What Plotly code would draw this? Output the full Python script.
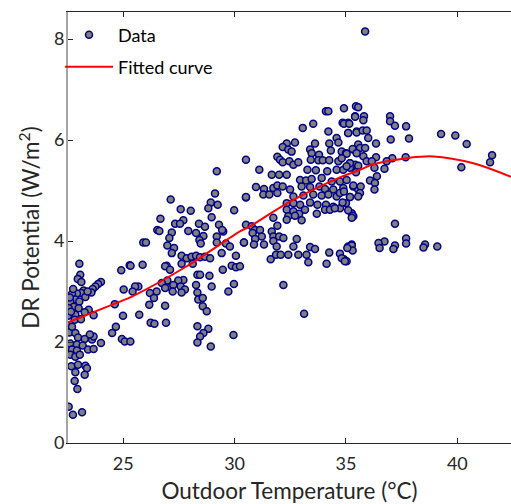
import plotly.graph_objects as go

# Outdoor temperature (°C) of each observation
temp_c = [
    23.03, 23.07, 22.96, 23.12, 24.00, 23.87, 23.75, 23.63, 23.57, 23.22,
    23.12, 22.92, 22.70, 23.30, 22.85, 22.62, 23.03, 22.78, 22.55, 23.00,
    23.45, 23.67, 23.27, 22.85, 22.52, 22.82, 22.52, 22.58, 22.85, 22.97,
    23.27, 23.60, 23.67, 24.00, 22.62, 22.92, 23.18, 23.42, 23.67, 22.70,
    22.92, 22.62, 22.85, 22.67, 22.97, 23.30, 23.37, 22.85, 23.27, 22.82,
    22.94, 22.55, 22.74, 23.15, 24.91, 25.29, 25.02, 24.62, 24.99, 24.67,
    24.50, 24.94, 25.07, 25.32, 22.60, 22.75, 23.40, 22.65, 23.10, 22.70,
    23.50, 23.05,
    29.20, 29.12, 28.93, 28.82, 30.51, 27.13, 27.58, 28.03, 29.98, 28.97,
    26.67, 27.70, 27.33, 27.55, 28.40, 28.67, 29.30, 29.49, 26.53, 26.62,
    27.18, 27.92, 28.27, 28.60, 29.20, 27.07, 28.42, 28.48, 29.20, 29.61,
    29.79, 30.42, 25.90, 26.02, 26.98, 27.28, 27.18, 27.62, 27.85, 28.07,
    28.27, 28.45, 28.67, 28.90, 29.42, 30.06, 26.95, 26.88, 27.10, 25.87,
    25.33, 27.62, 28.12, 28.33, 28.45, 28.87, 29.47, 29.87, 30.06, 27.70,
    27.47, 26.98, 26.73, 27.13, 27.25, 27.58, 27.77, 27.62, 27.22, 26.88,
    26.50, 26.20, 26.38, 25.68, 25.53, 25.42, 28.27, 28.33, 28.37, 28.57,
    28.97, 29.72, 29.97, 26.17, 26.88, 25.72, 28.57, 28.75, 26.23, 26.40,
    26.92, 28.33, 28.82, 28.60, 28.45, 28.33, 29.95, 28.93, 29.24, 29.44,
    34.10, 34.21, 34.91, 35.45, 33.53, 33.06, 34.85, 35.10, 35.41, 34.21,
    35.10, 35.48, 34.58, 34.66, 34.25, 32.71, 32.34, 32.16, 32.41, 32.56,
    33.39, 33.61, 33.46, 33.79, 34.32, 34.81, 35.00, 35.33, 35.55, 31.92,
    32.04, 32.16, 32.46, 32.64, 32.86, 33.42, 33.76, 33.96, 34.25, 34.66,
    35.18, 35.41, 31.11, 30.51, 31.67, 32.00, 32.34, 33.27, 33.65, 34.16,
    34.58, 34.88, 35.18, 32.94, 33.21, 33.46, 33.91, 34.36, 34.73, 35.03,
    35.33, 35.55, 30.96, 31.32, 31.74, 31.92, 32.16, 32.49, 33.01, 33.39,
    33.81, 34.06, 34.43, 34.88, 31.29, 31.56, 31.92, 32.64, 33.09, 33.53,
    33.91, 34.21, 34.58, 34.73, 35.18, 30.51, 32.34, 32.64, 32.94, 33.39,
    33.72, 34.10, 34.43, 34.73, 35.00, 35.26, 35.33, 32.34, 32.64, 32.90,
    33.16, 33.69, 34.06, 34.28, 34.50, 32.41, 32.71, 33.01, 32.34, 31.74,
    30.51, 30.77, 30.92, 31.14, 30.81, 31.22, 30.92, 30.42, 30.87, 31.32,
    31.67, 31.74, 31.92, 32.00, 31.74, 32.19, 31.89, 32.79, 32.64, 33.39,
    33.61, 34.25, 34.73, 34.91, 35.03, 35.10, 35.26, 31.62, 31.86, 32.07,
    32.41, 32.86, 33.23, 33.31, 34.13, 32.19, 33.12, 30.24,
    35.86, 35.55, 35.41, 35.81, 35.78, 34.91, 35.15, 36.98, 36.98, 37.20,
    37.70, 35.10, 35.48, 35.75, 35.93, 36.00, 37.01, 37.83, 39.27, 39.91,
    40.42, 41.56, 41.47, 40.18, 37.68, 37.08, 36.35, 35.55, 35.30, 35.63,
    35.86, 35.48, 35.78, 35.03, 34.81, 35.18, 35.93, 36.35, 36.16, 36.83,
    35.55, 35.03, 36.28, 36.73, 35.45, 36.39, 36.08, 36.30, 35.33, 35.66,
    36.28, 34.91, 35.63, 35.18, 35.55, 34.85, 35.10, 35.30, 35.26, 37.20,
    37.70, 37.70, 36.73, 36.46, 36.51, 37.20, 37.13, 38.55, 38.48, 39.10,
    35.26, 35.30, 35.06, 34.81, 34.95,
]

# Demand-response potential (W/m²) of each observation
dr_potential = [
    3.55, 3.33, 3.25, 3.19, 3.19, 3.15, 3.10, 3.05, 2.98, 3.02,
    2.97, 2.96, 2.95, 2.89, 2.84, 2.80, 2.80, 2.70, 2.67, 2.67,
    2.64, 2.53, 2.59, 2.54, 2.52, 2.44, 2.32, 2.19, 2.18, 2.09,
    2.06, 2.05, 2.11, 1.98, 1.97, 1.95, 1.93, 1.85, 1.86, 1.85,
    1.83, 1.75, 1.71, 1.52, 1.55, 1.53, 1.48, 1.40, 1.35, 1.23,
    1.07, 0.72, 0.56, 0.61, 3.42, 3.52, 3.04, 2.75, 2.52, 2.30,
    2.18, 2.06, 2.01, 2.01, 2.88, 3.05, 3.00, 2.60, 2.45, 2.30,
    2.15, 1.75,
    5.38, 4.94, 4.76, 4.65, 4.86, 4.82, 4.63, 4.60, 4.61, 4.47,
    4.44, 4.41, 4.34, 4.34, 4.34, 4.28, 4.32, 4.19, 4.22, 4.20,
    4.17, 4.20, 4.16, 4.10, 4.09, 4.06, 4.02, 3.95, 3.97, 3.95,
    3.89, 3.97, 3.97, 3.97, 3.91, 3.86, 3.76, 3.71, 3.66, 3.69,
    3.71, 3.68, 3.69, 3.66, 3.76, 3.71, 3.51, 3.50, 3.43, 3.53,
    3.51, 3.55, 3.55, 3.33, 3.33, 3.31, 3.43, 3.51, 3.48, 3.23,
    3.22, 3.22, 3.17, 3.09, 3.13, 3.10, 3.04, 2.98, 3.00, 3.07,
    3.00, 2.97, 2.87, 3.10, 3.10, 3.00, 3.13, 2.98, 2.84, 2.87,
    3.10, 3.00, 3.15, 2.74, 2.72, 2.54, 2.71, 2.61, 2.38, 2.36,
    2.38, 2.31, 2.26, 2.18, 2.11, 1.99, 2.14, 1.91, 4.72, 4.22,
    6.57, 6.57, 6.63, 6.67, 6.32, 6.24, 6.34, 6.34, 6.47, 6.17,
    6.14, 6.17, 6.04, 5.95, 5.93, 5.95, 5.93, 5.86, 5.81, 5.77,
    5.81, 5.93, 5.74, 5.71, 5.79, 5.77, 5.74, 5.81, 5.87, 5.67,
    5.61, 5.56, 5.58, 5.51, 5.56, 5.61, 5.60, 5.60, 5.60, 5.58,
    5.54, 5.51, 5.41, 5.61, 5.31, 5.31, 5.31, 5.41, 5.40, 5.38,
    5.41, 5.41, 5.45, 5.21, 5.20, 5.23, 5.25, 5.18, 5.18, 5.21,
    5.08, 5.02, 5.07, 5.03, 5.05, 5.10, 5.08, 5.02, 5.08, 5.07,
    5.08, 5.03, 5.02, 5.05, 4.92, 4.92, 4.95, 4.88, 4.90, 4.92,
    4.90, 4.92, 4.88, 4.95, 4.87, 4.87, 4.75, 4.75, 4.72, 4.76,
    4.72, 4.72, 4.68, 4.65, 4.75, 4.55, 4.49, 4.62, 4.59, 4.54,
    4.62, 4.54, 4.62, 4.62, 4.65, 4.49, 4.50, 4.41, 4.42, 4.46,
    4.32, 4.29, 4.22, 4.22, 4.16, 4.09, 4.04, 3.97, 3.93, 3.93,
    4.19, 4.09, 4.30, 4.09, 4.00, 4.06, 3.89, 4.04, 3.89, 3.88,
    3.84, 3.77, 3.75, 3.64, 3.60, 3.89, 3.93, 3.64, 3.73, 3.73,
    3.73, 3.73, 3.73, 3.58, 3.55, 3.13, 2.56, 3.50,
    8.15, 6.65, 6.46, 6.47, 6.39, 6.32, 6.32, 6.47, 6.37, 6.28,
    6.27, 6.14, 6.15, 6.19, 6.19, 6.04, 6.01, 6.03, 6.12, 6.09,
    5.92, 5.70, 5.56, 5.46, 5.66, 5.64, 5.93, 5.91, 5.82, 5.84,
    5.84, 5.74, 5.68, 5.73, 5.64, 5.54, 5.58, 5.66, 5.58, 5.58,
    5.49, 5.48, 5.45, 5.43, 5.36, 5.28, 5.20, 5.15, 5.10, 5.08,
    5.02, 4.98, 4.95, 4.87, 4.88, 4.76, 4.61, 4.50, 4.46, 4.34,
    4.05, 3.95, 3.99, 3.96, 3.86, 3.91, 3.84, 3.93, 3.87, 3.89,
    3.91, 3.81, 3.86, 3.66, 3.60,
]

# Fitted curve
fit_temp = [22.52, 24.85, 25.39, 27.85, 30.24, 30.69, 32.49, 34.73, 35.63,
            36.23, 37.73, 38.92, 40.72, 42.41]
fit_dr = [2.39, 2.80, 2.90, 3.50, 4.19, 4.29, 4.78, 5.26, 5.41,
          5.52, 5.64, 5.675, 5.54, 5.27]

x_ticks = [25, 30, 35, 40]
y_ticks = [0, 2, 4, 6, 8]

FONT = "Lato"
W, H = 511, 504
L, R, T, B = 68, 0, 12, 61
pw, ph = W - L - R, H - T - B

def px(xp):
    return (xp - L) / pw

def py(yp):
    return (H - B - yp) / ph

fig = go.Figure()
fig.add_trace(go.Scatter(
    x=temp_c, y=dr_potential, mode="markers", name="Data",
    marker=dict(size=7, color="#808080", line=dict(color="#00008B", width=1.5)),
    legend="legend",
))
fig.add_trace(go.Scatter(
    x=fit_temp, y=fit_dr, mode="lines", name="Fitted curve",
    line=dict(color="#FF0000", width=2, shape="spline"),
    legend="legend2",
))

leg_common = dict(
    bgcolor="rgba(0,0,0,0)", borderwidth=0, itemwidth=48,
    font=dict(family=FONT, size=18, color="#000000"),
    xanchor="left", yanchor="middle", itemclick=False,
)

fig.update_layout(
    width=W, height=H,
    margin=dict(l=L, r=R, t=T, b=B, pad=0),
    paper_bgcolor="white", plot_bgcolor="white",
    font=dict(family=FONT, size=18, color="#262626"),
    showlegend=True,
    legend=dict(x=px(60), y=py(35), **leg_common),
    legend2=dict(x=px(60), y=py(67), **leg_common),
    xaxis=dict(
        range=[22.52, 42.41], tickvals=x_ticks, ticks="inside", ticklen=5,
        tickcolor="#262626", showline=True, linecolor="#262626", linewidth=1,
        mirror="ticks", showgrid=False, zeroline=False,
        tickfont=dict(family=FONT, size=18, color="#262626"),
        ticklabelstandoff=4,
        title=dict(text="Outdoor Temperature (°C)",
                   font=dict(family=FONT, size=22.5, color="#262626"), standoff=10),
        automargin=False,
    ),
    yaxis=dict(
        range=[0, ph / 50.5], tickvals=y_ticks, ticks="inside", ticklen=5,
        tickcolor="#262626", showline=True, linecolor="#a6a6a6", linewidth=2,
        showgrid=False, zeroline=False,
        tickfont=dict(family=FONT, size=18, color="#262626"),
        ticklabelstandoff=-2,
        title=dict(text="DR Potential (W/m<sup>2</sup>)",
                   font=dict(family=FONT, size=22.5, color="#262626"), standoff=8),
        automargin=False,
    ),
)

fig.write_html("out.html")
